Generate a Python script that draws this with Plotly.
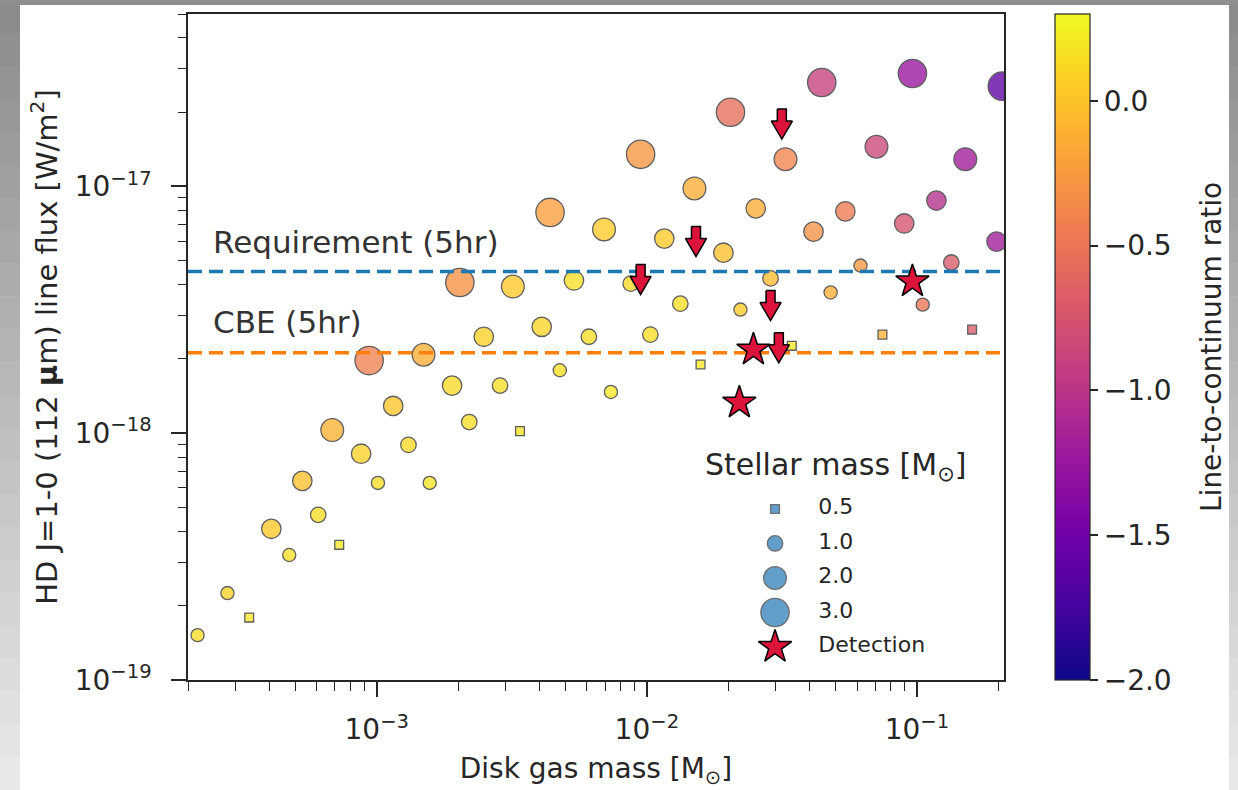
import numpy as np
import plotly.graph_objects as go

# ---- model grid: disk gas mass [Msun], HD J=1-0 flux [W/m^2], stellar mass [Msun], log line/continuum
disk_mass = [2.17e-4, 2.80e-4, 3.37e-4, 4.07e-4, 4.74e-4, 5.30e-4, 6.07e-4, 6.84e-4, 7.26e-4, 8.75e-4,
             9.37e-4, 1.01e-3, 1.15e-3, 1.31e-3, 1.49e-3, 1.57e-3, 1.90e-3, 2.03e-3, 2.20e-3, 2.49e-3,
             2.86e-3, 3.19e-3, 3.39e-3, 4.08e-3, 4.38e-3, 4.76e-3, 5.37e-3, 6.10e-3, 6.94e-3, 7.36e-3,
             8.71e-3, 9.48e-3, 1.03e-2, 1.16e-2, 1.33e-2, 1.50e-2, 1.58e-2, 1.92e-2, 2.04e-2, 2.22e-2,
             2.53e-2, 2.87e-2, 3.26e-2, 3.44e-2, 4.14e-2, 4.44e-2, 4.79e-2, 5.43e-2, 6.18e-2, 7.08e-2,
             7.45e-2, 8.97e-2, 9.62e-2, 0.105, 0.118, 0.134, 0.151, 0.160, 0.197, 0.207]
hd_flux = [1.52e-19, 2.25e-19, 1.79e-19, 4.10e-19, 3.21e-19, 6.41e-19, 4.67e-19, 1.03e-18, 3.53e-19, 8.26e-19,
           1.97e-18, 6.29e-19, 1.29e-18, 8.97e-19, 2.08e-18, 6.29e-19, 1.56e-18, 4.08e-18, 1.11e-18, 2.46e-18,
           1.56e-18, 3.93e-18, 1.02e-18, 2.70e-18, 7.85e-18, 1.80e-18, 4.16e-18, 2.46e-18, 6.70e-18, 1.47e-18,
           4.04e-18, 1.35e-17, 2.51e-18, 6.15e-18, 3.35e-18, 9.82e-18, 1.90e-18, 5.39e-18, 2.00e-17, 3.17e-18,
           8.15e-18, 4.24e-18, 1.29e-17, 2.26e-18, 6.56e-18, 2.64e-17, 3.72e-18, 7.93e-18, 4.78e-18, 1.45e-17,
           2.51e-18, 7.08e-18, 2.87e-17, 3.32e-18, 8.77e-18, 4.92e-18, 1.29e-17, 2.63e-18, 5.98e-18, 2.55e-17]
stellar_mass = [0.75, 0.75, 0.5, 1.5, 0.75, 1.5, 1.0, 2.0, 0.5, 1.5,
                3.0, 0.75, 1.5, 1.0, 2.0, 0.75, 1.5, 3.0, 1.0, 1.5,
                1.0, 2.0, 0.5, 1.5, 3.0, 0.75, 1.5, 1.0, 2.0, 0.75,
                1.0, 3.0, 1.0, 1.5, 1.0, 2.0, 0.5, 1.5, 3.0, 0.75,
                1.5, 1.0, 2.0, 0.5, 1.5, 3.0, 0.75, 1.5, 0.75, 2.0,
                0.5, 1.5, 3.0, 0.75, 1.5, 1.0, 2.0, 0.5, 1.5, 3.0]
line_to_cont = [0.15, 0.08, 0.20, 0.03, 0.15, -0.02, 0.15, -0.10, 0.20, 0.08,
                -0.42, 0.15, 0.00, 0.12, -0.12, 0.18, 0.12, -0.30, 0.15, 0.08,
                0.15, 0.03, 0.18, 0.10, -0.22, 0.15, 0.15, 0.15, 0.05, 0.20,
                0.12, -0.28, 0.15, 0.05, 0.15, -0.12, 0.20, -0.02, -0.55, 0.05,
                -0.12, -0.05, -0.40, 0.22, -0.30, -0.90, -0.12, -0.45, -0.25, -0.85,
                -0.10, -0.75, -1.25, -0.50, -1.05, -0.70, -1.20, -0.70, -1.20, -1.60]

# upper limits (arrows) and detections (stars)
upper_mass = [3.16e-2, 1.52e-2, 9.48e-3, 2.87e-2, 3.08e-2]
upper_flux = [1.79e-17, 5.98e-18, 4.20e-18, 3.29e-18, 2.22e-18]
det_mass = [9.62e-2, 2.48e-2, 2.20e-2]
det_flux = [4.12e-18, 2.18e-18, 1.33e-18]

# 5 hr sensitivity levels
REQ_5HR = 4.52e-18
CBE_5HR = 2.12e-18

legend_masses = [0.5, 1.0, 2.0, 3.0]
cbar_ticks = [0.0, -0.5, -1.0, -1.5, -2.0]
x_decades = [-3, -2, -1]
y_decades = [-19, -18, -17]

# ---- geometry
W, H = 1238, 790
M_L, M_R, M_T, M_B = 188, 234, 14, 110
PW, PH = W - M_L - M_R, H - M_T - M_B
X_RANGE = [np.log10(2e-4), np.log10(0.21)]
Y_RANGE = [-19.0, np.log10(5.0e-17)]
XPX = PW / (X_RANGE[1] - X_RANGE[0])
YPX = PH / (Y_RANGE[1] - Y_RANGE[0])

FONT = "DejaVu Sans, sans-serif"
INK = "#262626"
CRIMSON = "#dc143c"


def marker_size(m):
    return 17.5 * np.sqrt(m) - 2.0


def marker_symbol(m):
    return "square" if m <= 0.5 else "circle"


def scaled_size(m):
    return marker_size(m) * (0.85 if m <= 0.5 else 1.0)


def power_label(e):
    return f"10<sup>\u2212{abs(e)}</sup>"


fig = go.Figure()

# model grid coloured by line-to-continuum ratio
fig.add_trace(go.Scatter(
    x=disk_mass, y=hd_flux, mode="markers", showlegend=False,
    marker=dict(
        size=[scaled_size(m) for m in stellar_mass],
        symbol=[marker_symbol(m) for m in stellar_mass],
        color=line_to_cont, colorscale="Plasma", cmin=-2.0, cmax=0.3,
        opacity=0.78, line=dict(color="#333333", width=1.3),
        colorbar=dict(
            x=(1055 - M_L) / PW, xanchor="left", y=0.5, yanchor="middle",
            len=1.0, lenmode="fraction", thickness=35, thicknessmode="pixels",
            ypad=0, xpad=0, outlinewidth=1.2, outlinecolor=INK,
            ticks="outside", ticklen=8, tickwidth=1.5, tickcolor=INK,
            tickvals=cbar_ticks, tickformat=".1f",
            tickfont=dict(family=FONT, size=28, color=INK),
        ),
    ),
))

# sensitivity lines
for level, color in [(REQ_5HR, "#1f77b4"), (CBE_5HR, "#ff7f0e")]:
    fig.add_trace(go.Scatter(
        x=[10 ** X_RANGE[0], 10 ** X_RANGE[1]], y=[level, level], mode="lines",
        showlegend=False, line=dict(color=color, width=3.5, dash="14px,7px"),
    ))

# upper-limit arrows, built around each value in pixel units
ARROW = [(-4.5, -15), (4.5, -15), (4.5, -3), (10.5, -3), (0, 15), (-10.5, -3), (-4.5, -3), (-4.5, -15)]
arr_x, arr_y = [], []
for xm, yf in zip(upper_mass, upper_flux):
    for dx, dy in ARROW:
        arr_x.append(xm * 10 ** (dx / XPX))
        arr_y.append(yf * 10 ** (-dy / YPX))
    arr_x.append(None)
    arr_y.append(None)
fig.add_trace(go.Scatter(
    x=arr_x, y=arr_y, mode="lines", fill="toself", fillcolor=CRIMSON,
    line=dict(color="black", width=1.5), showlegend=False,
))

# detections
fig.add_trace(go.Scatter(
    x=det_mass, y=det_flux, mode="markers", showlegend=False,
    marker=dict(symbol="star", size=25, color=CRIMSON, line=dict(color="black", width=1.5)),
))

# ---- size legend on an overlay axis
LEG_X, LEG_Y0, LEG_DY = 0.7194, 0.2568, 0.0518
rows = list(range(len(legend_masses) + 1))
fig.add_trace(go.Scatter(
    x=[LEG_X] * len(legend_masses), y=[LEG_Y0 - LEG_DY * i for i in rows[:-1]],
    xaxis="x2", yaxis="y2", mode="markers", showlegend=False,
    marker=dict(size=[scaled_size(m) for m in legend_masses],
                symbol=[marker_symbol(m) for m in legend_masses],
                color="#1f77b4", opacity=0.7, line=dict(color="#333333", width=1.3)),
))
fig.add_trace(go.Scatter(
    x=[LEG_X], y=[LEG_Y0 - LEG_DY * rows[-1]], xaxis="x2", yaxis="y2", mode="markers",
    showlegend=False,
    marker=dict(symbol="star", size=25, color=CRIMSON, line=dict(color="black", width=1.5)),
))
fig.add_trace(go.Scatter(
    x=[LEG_X + 0.053] * len(rows), y=[LEG_Y0 - LEG_DY * i for i in rows],
    xaxis="x2", yaxis="y2", mode="text", textposition="middle right", showlegend=False,
    text=[f"{m:.1f}" for m in legend_masses] + ["Detection"],
    textfont=dict(family=FONT, size=22, color=INK),
))

annotations = [
    dict(text="Stellar mass [M<sub>⊙</sub>]", xref="paper", yref="paper", x=(836 - M_L) / PW,
         y=(H - M_B - 467) / PH, xanchor="center", yanchor="middle",
         showarrow=False, font=dict(family=FONT, size=30, color=INK)),
    dict(text="Requirement (5hr)", xref="paper", yref="y", x=(211 - M_L) / PW,
         y=np.log10(REQ_5HR), yshift=30, xanchor="left", yanchor="middle", showarrow=False,
         font=dict(family=FONT, size=31, color="#333333")),
    dict(text="CBE (5hr)", xref="paper", yref="y", x=(211 - M_L) / PW,
         y=np.log10(CBE_5HR), yshift=31, xanchor="left", yanchor="middle", showarrow=False,
         font=dict(family=FONT, size=31, color="#333333")),
    dict(text="Line-to-continuum ratio", xref="paper", yref="paper", x=(1211 - M_L) / PW, y=0.5,
         textangle=-90, showarrow=False, xanchor="center", yanchor="middle",
         font=dict(family=FONT, size=28, color=INK)),
]

# grey page frame (vertical shading on the sides, flat strip on top)
shapes = []


def px_rect(x0, x1, y0, y1, color):
    return dict(type="rect", xref="paper", yref="paper", layer="below", line=dict(width=0),
                x0=(x0 - M_L) / PW, x1=(x1 - M_L) / PW,
                y0=(H - M_B - y1) / PH, y1=(H - M_B - y0) / PH, fillcolor=color)


NB = 24
for i in range(NB):
    g = int(round(0x8c + (0xe8 - 0x8c) * i / (NB - 1)))
    col = f"rgb({g},{g},{g})"
    y0, y1 = H * i / NB, H * (i + 1) / NB + 0.5
    shapes.append(px_rect(0, 20, y0, y1, col))
    shapes.append(px_rect(1229, W, y0, y1, col))
shapes.append(px_rect(0, W, 0, 5, "rgb(143,143,143)"))

minor_x = [k * 10.0 ** e for e in range(-4, 0) for k in range(2, 10)]
minor_y = [k * 10.0 ** e for e in range(-19, -16) for k in range(2, 10)]

axis_common = dict(
    type="log", showline=True, linecolor=INK, linewidth=1.5, mirror=True,
    ticks="outside", ticklen=15, tickwidth=1.5, tickcolor=INK, tickmode="array",
    showgrid=False, zeroline=False,
    tickfont=dict(family=FONT, size=28, color=INK),
)

fig.update_layout(
    width=W, height=H, margin=dict(l=M_L, r=M_R, t=M_T, b=M_B),
    paper_bgcolor="white", plot_bgcolor="white",
    xaxis=dict(**axis_common, range=X_RANGE, ticklabelstandoff=9,
               tickvals=[10.0 ** e for e in x_decades], ticktext=[power_label(e) for e in x_decades],
               minor=dict(tickvals=minor_x, ticks="outside", ticklen=9, tickwidth=1.3,
                          tickcolor=INK, showgrid=False),
               title=dict(text="Disk gas mass [M<sub>⊙</sub>]", standoff=13,
                          font=dict(family=FONT, size=28, color=INK))),
    yaxis=dict(**axis_common, range=Y_RANGE, ticklabelstandoff=14,
               tickvals=[10.0 ** e for e in y_decades], ticktext=[power_label(e) for e in y_decades],
               minor=dict(tickvals=minor_y, ticks="outside", ticklen=8, tickwidth=1.3,
                          tickcolor=INK, showgrid=False),
               title=dict(text="HD J=1-0 (112 <b>μ</b>m) line flux [W/m<sup>2</sup>]", standoff=9,
                          font=dict(family=FONT, size=29, color=INK))),
    xaxis2=dict(overlaying="x", range=[0, 1], visible=False, anchor="y2"),
    yaxis2=dict(overlaying="y", range=[0, 1], visible=False, anchor="x2"),
    annotations=annotations, shapes=shapes, showlegend=False,
)

fig.write_html("out.html")
